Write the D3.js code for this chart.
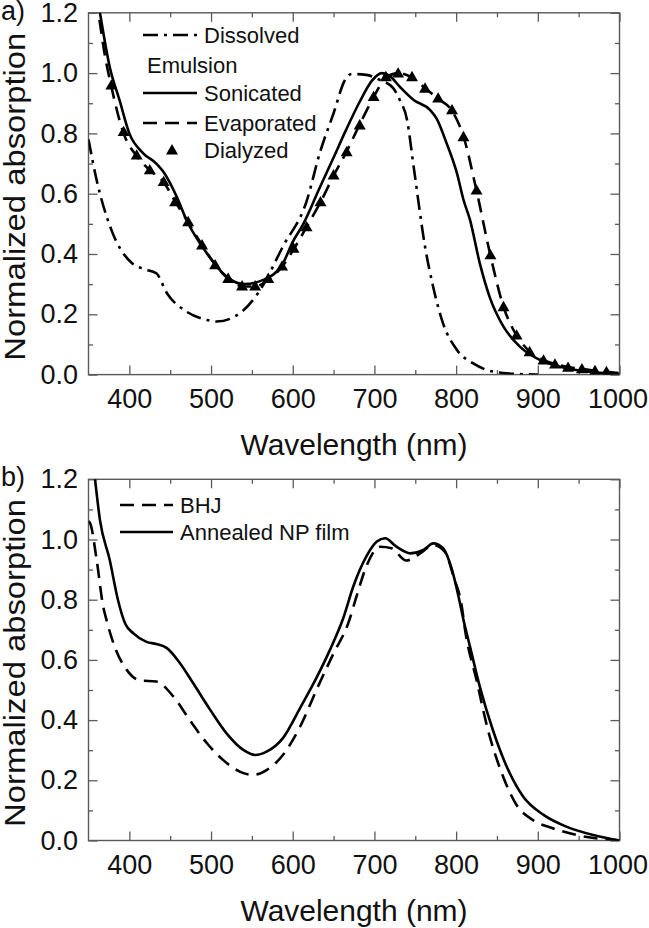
<!DOCTYPE html>
<html>
<head>
<meta charset="utf-8">
<script src="https://cdn.jsdelivr.net/npm/d3@7"></script>
<style>
  html, body { margin: 0; padding: 0; background: #fff; }
  svg { display: block; font-family: "Liberation Sans", Arial, Helvetica, sans-serif; }
</style>
</head>
<body>
<svg id="chart" width="649" height="928"></svg>
<script>
// ---------- Data (panel a) ----------
const dissolvedWl  = [350, 360, 378, 403, 418, 433, 446, 470, 495, 507, 535, 560, 588, 617, 633, 650, 664, 672, 690, 707, 723, 731, 740, 748, 762, 772, 784, 801, 821, 845, 870, 900];
const dissolvedAbs = [0.78, 0.645, 0.48, 0.37, 0.35, 0.336, 0.27, 0.209, 0.181, 0.176, 0.203, 0.28, 0.425, 0.575, 0.734, 0.867, 0.977, 0.997, 0.994, 0.977, 0.95, 0.911, 0.844, 0.69, 0.424, 0.29, 0.17, 0.082, 0.037, 0.01, 0.003, 0.0];

const sonicatedWl  = [355, 364, 376, 388, 400, 417, 433, 441, 458, 470, 495, 519, 540, 564, 588, 600, 613, 633, 650, 665, 682, 697, 709, 719, 731, 748, 768, 776, 788, 801, 809, 817, 829, 841, 858, 878, 903, 935, 976, 1000];
const sonicatedAbs = [1.35, 1.2, 1.02, 0.91, 0.80, 0.734, 0.70, 0.675, 0.59, 0.513, 0.402, 0.325, 0.30, 0.314, 0.369, 0.44, 0.50, 0.62, 0.72, 0.81, 0.905, 0.975, 1.0, 0.99, 0.955, 0.911, 0.878, 0.85, 0.77, 0.668, 0.58, 0.513, 0.369, 0.258, 0.159, 0.093, 0.048, 0.021, 0.006, 0.002];

const evaporatedWl  = [354, 362, 370, 378, 393, 409, 425, 442, 456, 472, 489, 505, 521, 538, 554, 570, 587, 601, 617, 634, 650, 666, 682, 699, 714, 729, 746, 762, 778, 795, 809, 825, 842, 858, 874, 890, 907, 921, 937, 954, 970, 984, 1000];
const evaporatedAbs = [1.32, 1.2, 1.06, 0.955, 0.80, 0.725, 0.678, 0.638, 0.575, 0.505, 0.43, 0.365, 0.318, 0.293, 0.292, 0.315, 0.358, 0.415, 0.49, 0.572, 0.66, 0.74, 0.83, 0.92, 0.985, 1.0, 0.985, 0.95, 0.915, 0.875, 0.79, 0.61, 0.395, 0.225, 0.13, 0.077, 0.048, 0.035, 0.025, 0.019, 0.013, 0.009, 0.005];

const dialyzedWl  = [378, 393, 409, 425, 442, 456, 472, 489, 505, 521, 538, 554, 570, 587, 601, 617, 634, 650, 666, 682, 699, 714, 729, 746, 762, 778, 795, 809, 825, 842, 858, 874, 890, 907, 921, 937, 954, 970, 984];
const dialyzedAbs = [0.96, 0.806, 0.728, 0.679, 0.64, 0.573, 0.507, 0.43, 0.364, 0.319, 0.294, 0.294, 0.319, 0.36, 0.419, 0.49, 0.573, 0.662, 0.739, 0.828, 0.922, 0.988, 1.0, 0.988, 0.95, 0.917, 0.878, 0.789, 0.612, 0.397, 0.225, 0.131, 0.076, 0.048, 0.035, 0.024, 0.019, 0.013, 0.01];

// ---------- Data (panel b) ----------
const bhjWl  = [350, 352, 360, 368, 372, 382, 397, 413, 433, 454, 474, 495, 515, 535, 552, 568, 588, 609, 629, 650, 668, 678, 690, 707, 721, 739, 756, 772, 786, 797, 807, 811, 825, 839, 856, 874, 894, 919, 948, 1000];
const bhjAbs = [1.06, 1.054, 0.932, 0.777, 0.733, 0.644, 0.566, 0.532, 0.528, 0.478, 0.40, 0.323, 0.267, 0.229, 0.218, 0.234, 0.284, 0.378, 0.5, 0.622, 0.722, 0.81, 0.91, 0.976, 0.971, 0.93, 0.954, 0.982, 0.96, 0.876, 0.777, 0.699, 0.533, 0.367, 0.223, 0.118, 0.068, 0.04, 0.018, 0.0];

const annealedWl  = [352, 358, 364, 376, 386, 395, 405, 421, 433, 446, 462, 478, 499, 519, 540, 554, 568, 588, 609, 629, 645, 662, 674, 690, 703, 713, 727, 744, 760, 772, 784, 795, 803, 809, 817, 829, 845, 862, 882, 907, 935, 968, 1000];
const annealedAbs = [1.35, 1.2, 1.065, 0.932, 0.80, 0.72, 0.688, 0.66, 0.653, 0.639, 0.589, 0.523, 0.434, 0.356, 0.30, 0.284, 0.295, 0.34, 0.44, 0.54, 0.63, 0.74, 0.843, 0.943, 0.993, 1.004, 0.976, 0.954, 0.965, 0.987, 0.971, 0.899, 0.81, 0.733, 0.644, 0.511, 0.367, 0.245, 0.146, 0.085, 0.046, 0.018, 0.0];

// ---------- Axis definitions ----------
const xDomain = [350, 1000];
const yDomain = [0, 1.2];
const xMajorTicks = [400, 500, 600, 700, 800, 900, 1000];
const xMinorTicks = [450, 550, 650, 750, 850, 950];
const yMajorTicks = [0, 0.2, 0.4, 0.6, 0.8, 1.0, 1.2];
const yMinorTicks = [0.1, 0.3, 0.5, 0.7, 0.9, 1.1];
const xTitle = "Wavelength (nm)";
const yTitle = "Normalized absorption";

const legendA = ["Dissolved", "Emulsion", "Sonicated", "Evaporated", "Dialyzed"];
const legendB = ["BHJ", "Annealed NP film"];

// ---------- Drawing ----------
const svg = d3.select("#chart");
const left = 88.5, right = 619.5;
const panels = [
  { id: "a", top: 12.8, bottom: 374.6, tag: "a)", tagY: 20 },
  { id: "b", top: 479.3, bottom: 840.5, tag: "b)", tagY: 486 }
];

const DASH = "14,8";
const DASHDOT = "15,6,3,6";
const LW = 2.6;

function makePanel(p) {
  const x = d3.scaleLinear().domain(xDomain).range([left, right]);
  const y = d3.scaleLinear().domain(yDomain).range([p.bottom, p.top]);
  const g = svg.append("g");

  g.append("clipPath").attr("id", "clip-" + p.id)
    .append("rect").attr("x", left).attr("y", p.top)
    .attr("width", right - left).attr("height", p.bottom - p.top);

  const axisColor = "#5a5a5a";
  const styleAxis = sel => {
    sel.select(".domain").remove();
    sel.selectAll(".tick line").attr("stroke", axisColor).attr("stroke-width", 1.3);
    sel.selectAll(".tick text").attr("fill", "#111").attr("font-size", 27)
      .attr("font-family", "Liberation Sans, Arial, sans-serif");
  };

  // bottom major with labels
  const bx = g.append("g").attr("transform", `translate(0,${p.bottom})`)
    .call(d3.axisBottom(x).tickValues(xMajorTicks).tickSize(-9).tickPadding(14).tickFormat(d3.format("d")))
    .call(styleAxis);
  bx.selectAll(".tick text").filter(d => d === 1000).attr("dx", -2);
  g.append("g").attr("transform", `translate(0,${p.bottom})`)
    .call(d3.axisBottom(x).tickValues(xMinorTicks).tickSize(-4.5).tickFormat(""))
    .call(styleAxis);
  // top
  g.append("g").attr("transform", `translate(0,${p.top})`)
    .call(d3.axisTop(x).tickValues(xMajorTicks).tickSize(-9).tickFormat(""))
    .call(styleAxis);
  g.append("g").attr("transform", `translate(0,${p.top})`)
    .call(d3.axisTop(x).tickValues(xMinorTicks).tickSize(-4.5).tickFormat(""))
    .call(styleAxis);
  // left major with labels
  g.append("g").attr("transform", `translate(${left},0)`)
    .call(d3.axisLeft(y).tickValues(yMajorTicks).tickSize(-9).tickPadding(10.5).tickFormat(d3.format(".1f")))
    .call(styleAxis);
  g.append("g").attr("transform", `translate(${left},0)`)
    .call(d3.axisLeft(y).tickValues(yMinorTicks).tickSize(-4.5).tickFormat(""))
    .call(styleAxis);
  // right
  g.append("g").attr("transform", `translate(${right},0)`)
    .call(d3.axisRight(y).tickValues(yMajorTicks).tickSize(-9).tickFormat(""))
    .call(styleAxis);
  g.append("g").attr("transform", `translate(${right},0)`)
    .call(d3.axisRight(y).tickValues(yMinorTicks).tickSize(-4.5).tickFormat(""))
    .call(styleAxis);

  // frame
  g.append("rect").attr("x", left).attr("y", p.top)
    .attr("width", right - left).attr("height", p.bottom - p.top)
    .attr("fill", "none").attr("stroke", axisColor).attr("stroke-width", 1.4);

  // titles
  g.append("text").attr("x", (left + right) / 2).attr("y", p.bottom + 80)
    .attr("text-anchor", "middle").attr("font-size", 29).attr("fill", "#111")
    .attr("textLength", 227).attr("lengthAdjust", "spacingAndGlyphs")
    .text(xTitle);
  g.append("text")
    .attr("transform", `translate(25,${(p.top + p.bottom) / 2 + 3}) rotate(-90)`)
    .attr("text-anchor", "middle").attr("font-size", 29).attr("fill", "#111")
    .attr("textLength", 328).attr("lengthAdjust", "spacingAndGlyphs")
    .text(yTitle);
  g.append("text").attr("x", 1).attr("y", p.tagY)
    .attr("font-size", 27).attr("fill", "#111").text(p.tag);

  return { g, x, y };
}

function drawLine(ctx, clipId, wl, abs, dash) {
  const data = wl.map((w, i) => [w, abs[i]]);
  const line = d3.line().x(d => ctx.x(d[0])).y(d => ctx.y(d[1])).curve(d3.curveMonotoneX);
  ctx.g.append("path").datum(data)
    .attr("clip-path", `url(#clip-${clipId})`)
    .attr("d", line).attr("fill", "none").attr("stroke", "#000")
    .attr("stroke-width", LW).attr("stroke-dasharray", dash || null)
    .attr("stroke-linejoin", "round");
}

const tri = d3.symbol().type(d3.symbolTriangle).size(62);

// Panel a
const A = makePanel(panels[0]);
drawLine(A, "a", dissolvedWl, dissolvedAbs, DASHDOT);
drawLine(A, "a", sonicatedWl, sonicatedAbs, null);
drawLine(A, "a", evaporatedWl, evaporatedAbs, DASH);
A.g.append("g").attr("clip-path", "url(#clip-a)")
  .selectAll("path").data(dialyzedWl.map((w, i) => [w, dialyzedAbs[i]]))
  .join("path")
  .attr("transform", d => `translate(${A.x(d[0])},${A.y(d[1]) + 1})`)
  .attr("d", tri).attr("fill", "#000");

// legend a
const la = A.g.append("g");
const legFont = 22;
const laRows = [35, 65, 93, 123, 150];
const laStyles = [DASHDOT, "label", null, DASH, "marker"];
laRows.forEach((ry, i) => {
  const st = laStyles[i];
  if (st === "label") {
    la.append("text").attr("x", 147).attr("y", ry).attr("dy", "0.36em")
      .attr("font-size", legFont).attr("fill", "#111").text(legendA[i]);
    return;
  }
  if (st === "marker") {
    la.append("path").attr("transform", `translate(172,${ry + 1})`).attr("d", tri).attr("fill", "#000");
  } else {
    la.append("line").attr("x1", 143).attr("x2", 197).attr("y1", ry).attr("y2", ry)
      .attr("stroke", "#000").attr("stroke-width", LW).attr("stroke-dasharray", st);
  }
  la.append("text").attr("x", 204).attr("y", ry).attr("dy", "0.36em")
    .attr("font-size", legFont).attr("fill", "#111").text(legendA[i]);
});

// Panel b
const B = makePanel(panels[1]);
drawLine(B, "b", bhjWl, bhjAbs, DASH);
drawLine(B, "b", annealedWl, annealedAbs, null);

const lb = B.g.append("g");
const lbRows = [505, 532];
const lbStyles = [DASH, null];
lbRows.forEach((ry, i) => {
  lb.append("line").attr("x1", 120).attr("x2", 173).attr("y1", ry).attr("y2", ry)
    .attr("stroke", "#000").attr("stroke-width", LW).attr("stroke-dasharray", lbStyles[i]);
  lb.append("text").attr("x", 180).attr("y", ry).attr("dy", "0.36em")
    .attr("font-size", legFont).attr("fill", "#111").text(legendB[i]);
});
</script>
</body>
</html>
